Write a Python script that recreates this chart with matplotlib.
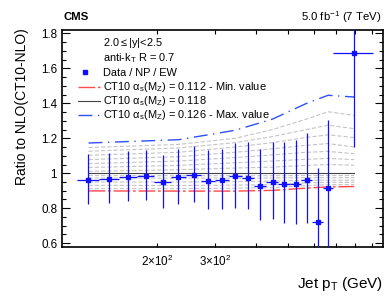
import matplotlib
matplotlib.use('Agg')
import matplotlib.pyplot as plt
import numpy as np
from matplotlib.lines import Line2D

plt.rcParams['font.family'] = ['Liberation Sans', 'DejaVu Sans']
plt.rcParams['mathtext.default'] = 'regular'
plt.rcParams['lines.scale_dashes'] = False

### data ###
# bin edges in jet pT (GeV)
edges = np.array([114, 133, 153, 174, 196, 220, 245, 272, 300, 330, 362, 395,
                  430, 468, 507, 548, 592, 638, 686, 905])
ratio = np.array([0.963, 0.970, 0.980, 0.985, 0.950, 0.977, 0.990, 0.958, 0.960,
                  0.982, 0.975, 0.928, 0.948, 0.937, 0.936, 0.960, 0.720, 0.914, 1.690])
err_top = np.array([1.109, 1.116, 1.127, 1.135, 1.103, 1.137, 1.158, 1.135, 1.139,
                    1.175, 1.177, 1.141, 1.179, 1.181, 1.188, 1.230, 1.030, 1.305, 2.230])
err_bot = np.array([0.823, 0.829, 0.842, 0.846, 0.804, 0.827, 0.833, 0.793, 0.793,
                    0.804, 0.793, 0.731, 0.739, 0.714, 0.709, 0.714, 0.410, 0.520, 1.150])

# theory ratios for different alpha_s values
pt_th = [124, 233, 346, 449, 570, 662, 795]
alphas = [0.112, 0.113, 0.114, 0.115, 0.116, 0.117, 0.118,
          0.119, 0.120, 0.121, 0.122, 0.123, 0.124, 0.125, 0.126]
th = [
    [0.899, 0.898, 0.898, 0.902, 0.915, 0.922, 0.924],
    [0.912, 0.912, 0.914, 0.918, 0.930, 0.935, 0.935],
    [0.931, 0.930, 0.932, 0.935, 0.945, 0.948, 0.948],
    [0.950, 0.950, 0.952, 0.955, 0.960, 0.960, 0.960],
    [0.973, 0.972, 0.972, 0.973, 0.975, 0.975, 0.975],
    [0.987, 0.986, 0.986, 0.986, 0.987, 0.987, 0.987],
    [1.000, 1.000, 1.000, 1.000, 1.000, 1.000, 1.000],
    [1.011, 1.020, 1.030, 1.035, 1.045, 1.050, 1.046],
    [1.033, 1.045, 1.060, 1.070, 1.080, 1.085, 1.078],
    [1.055, 1.070, 1.090, 1.105, 1.120, 1.125, 1.112],
    [1.078, 1.095, 1.120, 1.140, 1.160, 1.170, 1.150],
    [1.103, 1.120, 1.150, 1.175, 1.205, 1.220, 1.204],
    [1.126, 1.145, 1.175, 1.210, 1.250, 1.275, 1.255],
    [1.147, 1.165, 1.200, 1.250, 1.310, 1.352, 1.331],
    [1.173, 1.192, 1.246, 1.310, 1.400, 1.446, 1.436],
]

xticks = [200, 300, 400, 500, 600, 700, 800, 900]
xticklabels = [r'2$\times$10$^2$', r'3$\times$10$^2$', '', '', '', '', '', '']
yticks = [0.6, 0.8, 1.0, 1.2, 1.4, 1.6, 1.8]
yticklabels = ['0.6', '0.8', '1', '1.2', '1.4', '1.6', '1.8']

centers = 0.5 * (edges[:-1] + edges[1:])
xlo = centers - edges[:-1]
xhi = edges[1:] - centers

fig = plt.figure(figsize=(3.9, 3.02), dpi=100)
ax = fig.add_axes([0.159, 0.182, 0.823, 0.719])

blue = '#1010ff'
red_st = dict(color='#ff4848', lw=1.0, dashes=(12, 2, 2, 2))
blk_st = dict(color='#444444', lw=0.8)
blu_st = dict(color='#3050ff', lw=1.0, dashes=(10, 4, 1, 4))
for a, vals in zip(alphas, th):
    if a == 0.112:
        ax.plot(pt_th, vals, zorder=3, **red_st)
    elif a == 0.118:
        ax.plot(pt_th, vals, zorder=3, **blk_st)
    elif a == 0.126:
        ax.plot(pt_th, vals, zorder=3, **blu_st)
    else:
        ax.plot(pt_th, vals, color='#c4c4c4', lw=0.8, dashes=(3, 1.5), zorder=2)

ax.errorbar(centers, ratio, xerr=[xlo, xhi], yerr=[ratio - err_bot, err_top - ratio],
            fmt='s', color=blue, ms=2.2, lw=0.9, capsize=0, zorder=4)

ax.set_xscale('log')
ax.set_xlim(103, 972)
ax.set_ylim(0.578, 1.82)
ax.set_xticks(xticks)
ax.set_xticklabels(xticklabels)
ax.xaxis.set_minor_locator(matplotlib.ticker.NullLocator())
ax.set_yticks(yticks)
ax.set_yticklabels(yticklabels)
ax.set_yticks(np.arange(0.6, 1.81, 0.05), minor=True)
ax.tick_params(which='both', direction='in', top=True, right=True, labelsize=8.4, width=0.8)
ax.tick_params(axis='y', which='major', length=6)
ax.tick_params(axis='y', which='minor', length=3.2)
ax.tick_params(axis='x', which='major', length=3, pad=5)
for s in ax.spines.values():
    s.set_linewidth(1.2)

# legend, drawn by hand to keep the row spacing of the original
labels = [r'2.0$\leq$|y|<2.5', r'anti-k$_T$ R = 0.7', 'Data / NP / EW',
          r'CT10 $\alpha_s$(M$_Z$) = 0.112 - Min. value',
          r'CT10 $\alpha_s$(M$_Z$) = 0.118',
          r'CT10 $\alpha_s$(M$_Z$) = 0.126 - Max. value']
row_base = [0.926, 0.857, 0.788, 0.722, 0.657, 0.592]
for lab, yb in zip(labels, row_base):
    ax.text(0.128, yb, lab, transform=ax.transAxes, fontsize=7.9, va='baseline', ha='left')
ax.add_line(Line2D([0.072], [0.806], transform=ax.transAxes, ls='none', marker='s',
                   ms=2.2, color=blue))
for yc, st in zip([0.736, 0.671, 0.606], [red_st, blk_st, blu_st]):
    ax.add_line(Line2D([0.050, 0.118], [yc, yc], transform=ax.transAxes, **st))

fig.text(63 / 390, 1 - 17 / 302, 'CMS', fontsize=8.2, fontweight='bold', va='center', ha='left')
fig.text(381 / 390, 1 - 17 / 302, r'5.0 fb$^{-1}$ (7 TeV)', fontsize=8.2, va='center', ha='right')
fig.text(22 / 390, 1 - 28 / 302, 'Ratio to NLO(CT10-NLO)', rotation=90, fontsize=10,
         va='top', ha='center')
fig.text(383 / 390, 1 - 284 / 302, r'Jet p$_T$ (GeV)', fontsize=11, va='center', ha='right')

fig.savefig('out.png', dpi=100)
